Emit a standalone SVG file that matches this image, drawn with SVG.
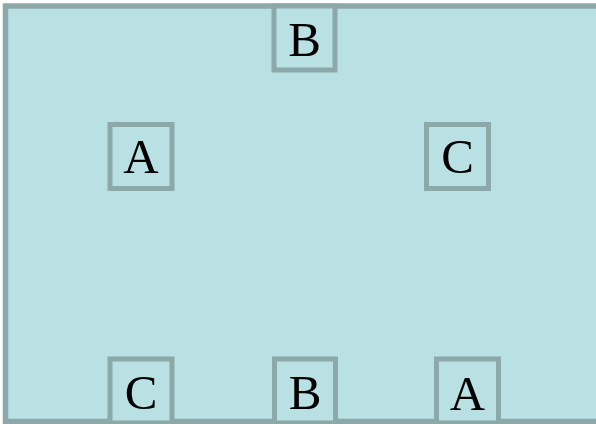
<svg xmlns="http://www.w3.org/2000/svg" width="596" height="424" viewBox="0 0 596 424">
<style>
.frame{fill:#b9e0e3;stroke:#8ca8a8;stroke-width:5.5}
.box{fill:#b9e0e3;stroke:#8ca8a8;stroke-width:5}
.lbl{font-family:"Liberation Serif","Times New Roman",serif;font-size:49px;fill:#000;text-anchor:middle}
</style>
<rect id="frame" class="frame" x="5.5" y="6" width="600" height="415.5"/>
<g id="connectors"/>
<g id="node-B-top"><rect class="box" x="274" y="6" width="61" height="64"/><text class="lbl" x="304.5" y="56">B</text></g>
<g id="node-A-top"><rect class="box" x="110" y="124.5" width="62" height="64"/><text class="lbl" x="141" y="173">A</text></g>
<g id="node-C-top"><rect class="box" x="426.5" y="124.5" width="62" height="64"/><text class="lbl" x="457.5" y="173">C</text></g>
<g id="node-C-bottom"><rect class="box" x="110" y="359" width="62" height="64"/><text class="lbl" x="141" y="409">C</text></g>
<g id="node-B-bottom"><rect class="box" x="274.5" y="359" width="61" height="64"/><text class="lbl" x="305" y="409">B</text></g>
<g id="node-A-bottom"><rect class="box" x="436.5" y="359" width="62" height="64"/><text class="lbl" x="467.5" y="410">A</text></g>
</svg>
